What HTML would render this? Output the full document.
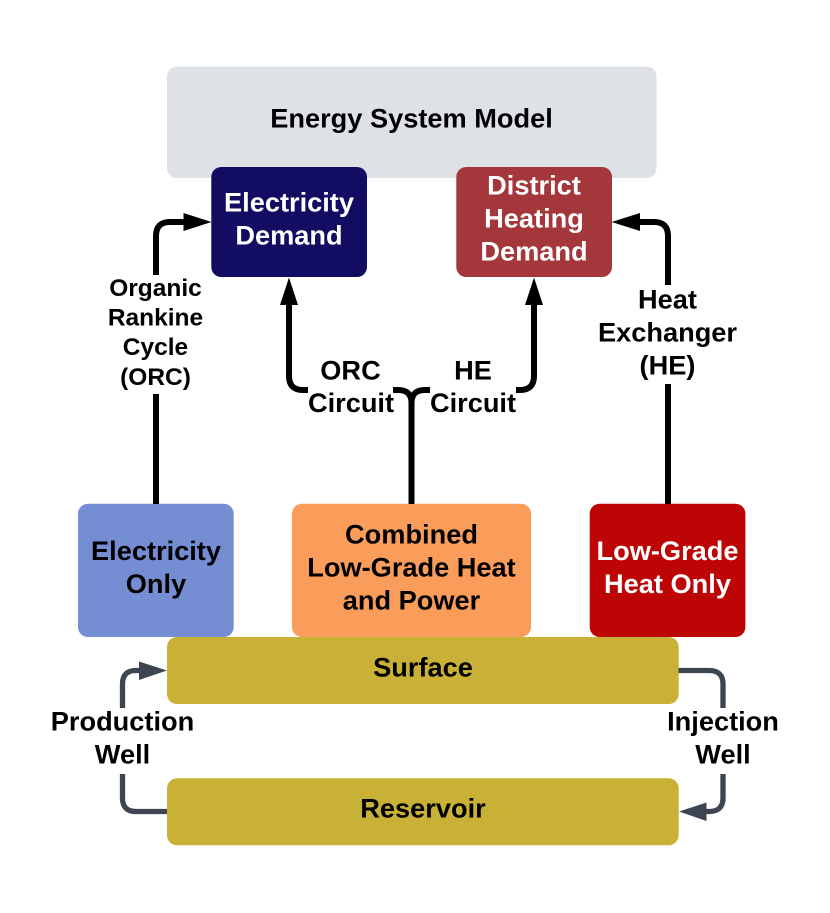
<!DOCTYPE html>
<html><head><meta charset="utf-8"><style>
html,body{margin:0;padding:0;background:#fff}
svg{display:block}
text{font-family:"Liberation Sans",sans-serif;font-weight:bold;text-anchor:middle;font-size:27.2px;fill:#000}
.w{fill:#fff}
.s{font-size:24.5px}
.l{fill:none;stroke:#000;stroke-width:6}
.g{fill:none;stroke:#3d4550;stroke-width:5.300}
</style></head><body>
<svg width="830" height="913" viewBox="0 0 830 913" xmlns="http://www.w3.org/2000/svg">
<rect width="830" height="913" fill="#fff"/>
<rect x="167" y="66.500" width="489.500" height="111.500" rx="10" fill="#dee1e6"/>
<rect x="211.300" y="167" width="155.700" height="110" rx="10" fill="#130c63"/>
<rect x="456.300" y="167" width="155.700" height="110" rx="10" fill="#a4373b"/>
<rect x="78" y="503.700" width="155.700" height="133.300" rx="10" fill="#758dd2"/>
<rect x="292" y="503.700" width="239" height="133.300" rx="10" fill="#fa9c5a"/>
<rect x="589.700" y="503.700" width="155.700" height="133.300" rx="10" fill="#bd0505"/>
<rect x="167" y="637" width="511.700" height="67" rx="10" fill="#c9b037"/>
<rect x="167" y="778.300" width="511.700" height="67" rx="10" fill="#c9b037"/>

<path class="l" d="M156 504V394M156 275V236Q156 222 170 222H186"/>
<path d="M211.500 222L183.500 213V231Z"/>
<path class="l" d="M668 504V384M668 285V236Q668 222 654 222H638"/>
<path d="M611.500 222L640 213V231Z"/>
<path class="l" d="M411.500 504V403Q411.500 390 398 390H393M411.500 403Q411.500 390 425 390H430"/>
<path class="l" d="M308 390H303Q289 390 289 376V303"/>
<path d="M289 277.500L280 305H298Z"/>
<path class="l" d="M516 390H520Q534 390 534 376V303"/>
<path d="M534 277.500L525 305H543Z"/>

<path class="g" d="M122.500 708V684Q122.500 670.500 136 670.500H142"/>
<path d="M167 670.500L139 661.500V680Z" fill="#3d4550"/>
<path class="g" d="M122.500 774V798Q122.500 811.500 136 811.500H167"/>
<path class="g" d="M678.500 670.500H709Q723 670.500 723 684V708"/>
<path class="g" d="M723 774V798Q723 811.500 709 811.500H703"/>
<path d="M679 811.500L706.500 802.500V821Z" fill="#3d4550"/>

<text x="411.500" y="127.500">Energy System Model</text>
<text class="w" x="289" y="211.500">Electricity</text>
<text class="w" x="289" y="244.500">Demand</text>
<text class="w" x="534" y="194.500">District</text>
<text class="w" x="534" y="227.500">Heating</text>
<text class="w" x="534" y="260.500">Demand</text>
<text x="156" y="560">Electricity</text>
<text x="156" y="593">Only</text>
<text x="411.500" y="543.500">Combined</text>
<text x="411.500" y="576.500">Low-Grade Heat</text>
<text x="411.500" y="609.500">and Power</text>
<text class="w" x="667.500" y="560">Low-Grade</text>
<text class="w" x="667.500" y="593">Heat Only</text>
<text x="423" y="676.500">Surface</text>
<text x="423" y="817.500">Reservoir</text>

<text class="s" x="155.500" y="296">Organic</text>
<text class="s" x="155.500" y="325.500">Rankine</text>
<text class="s" x="155.500" y="355">Cycle</text>
<text class="s" x="155.500" y="385">(ORC)</text>
<text x="350.500" y="379.500">ORC</text>
<text x="351" y="412">Circuit</text>
<text x="473" y="379.500">HE</text>
<text x="473" y="412">Circuit</text>
<text x="667.500" y="308.500">Heat</text>
<text x="667.500" y="341.500">Exchanger</text>
<text x="667.500" y="374.500">(HE)</text>
<text x="122.500" y="730.500">Production</text>
<text x="122.500" y="763.500">Well</text>
<text x="723" y="730.500">Injection</text>
<text x="723" y="763.500">Well</text>
</svg>
</body></html>
